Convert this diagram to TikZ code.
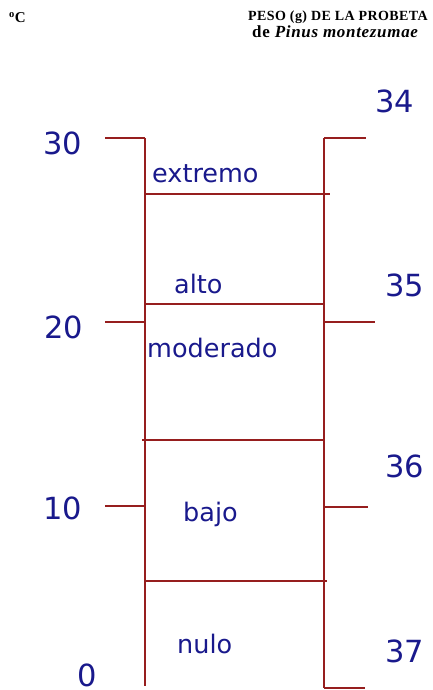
\documentclass[tikz,border=0pt]{standalone}
\usepackage{fontspec}
\setmainfont{Liberation Serif}
\newfontfamily\dvsans{DejaVu Sans}
\definecolor{axisred}{RGB}{150,30,30}
\definecolor{navyblue}{RGB}{25,25,140}
\begin{document}
\begin{tikzpicture}[x=1pt,y=-1pt,
  rule/.style={draw=axisred,line width=1.5pt},
  num/.style={inner sep=0,text=navyblue,font=\dvsans\fontsize{30.5}{32}\selectfont},
  lvl/.style={inner sep=0,anchor=base west,text=navyblue,font=\dvsans\fontsize{25.5}{27}\selectfont},
  head/.style={inner sep=0,anchor=base west}]
\useasboundingbox (0,0) rectangle (433,690);

% header
\node[head,font=\bfseries\fontsize{15}{16}\selectfont] (unit) at (9,22.7) {\textsuperscript{o}C};
\node[head,font=\bfseries\fontsize{14}{16}\selectfont\addfontfeature{LetterSpace=3}] (title1) at (248,21) {PESO (g) DE LA PROBETA};
\node[head,font=\bfseries\fontsize{17}{18}\selectfont\addfontfeature{LetterSpace=4}] (title2) at (252,38) {de \textit{Pinus montezumae}};

% axis coordinates
\coordinate (lt) at (145,138);
\coordinate (lb) at (145,686);
\coordinate (rt) at (324,138);
\coordinate (rb) at (324,688);

% verticals
\draw[rule] (lt) -- (lb);
\draw[rule] (rt) -- (rb);

% left ticks
\coordinate (l30a) at (105,138);
\coordinate (l20a) at (105,322); \coordinate (l20b) at (145,322);
\coordinate (l10a) at (105,506); \coordinate (l10b) at (145,506);
\draw[rule] (l30a) -- (lt);
\draw[rule] (l20a) -- (l20b);
\draw[rule] (l10a) -- (l10b);

% right ticks
\coordinate (r34) at (366,138);
\coordinate (r35a) at (324,322); \coordinate (r35b) at (375,322);
\coordinate (r36a) at (324,507); \coordinate (r36b) at (368,507);
\coordinate (r37) at (365,688);
\draw[rule] (rt) -- (r34);
\draw[rule] (r35a) -- (r35b);
\draw[rule] (r36a) -- (r36b);
\draw[rule] (rb) -- (r37);

% dividers
\coordinate (d1a) at (145,194); \coordinate (d1b) at (330,194);
\coordinate (d2a) at (145,304); \coordinate (d2b) at (324,304);
\coordinate (d3a) at (142,440); \coordinate (d3b) at (324,440);
\coordinate (d4a) at (145,581); \coordinate (d4b) at (327,581);
\draw[rule] (d1a) -- (d1b);
\draw[rule] (d2a) -- (d2b);
\draw[rule] (d3a) -- (d3b);
\draw[rule] (d4a) -- (d4b);

% left scale numbers
\node[num] (n30) at (63,143.5) {30};
\node[num] (n20) at (63.5,327) {20};
\node[num] (n10) at (63,508) {10};
\node[num] (n0) at (87.5,675) {0};

% right scale numbers
\node[num] (n34) at (395,101.5) {34};
\node[num] (n35) at (405,285.5) {35};
\node[num] (n36) at (405,466) {36};
\node[num] (n37) at (405,651) {37};

% level labels
\node[lvl] (extremo) at (152,182) {extremo};
\node[lvl] (alto) at (174,293) {alto};
\node[lvl] (moderado) at (147,357) {moderado};
\node[lvl] (bajo) at (183,521) {bajo};
\node[lvl] (nulo) at (177,653) {nulo};
\end{tikzpicture}
\end{document}
